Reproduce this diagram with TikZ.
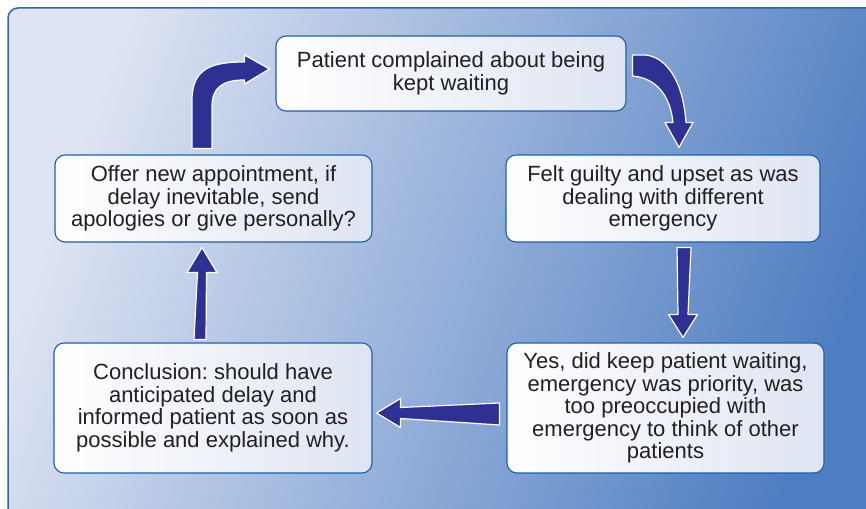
\documentclass[tikz,border=0pt]{standalone}
\usepackage{fontspec}
\setmainfont{Liberation Sans}
\usepackage{xcolor}
\usepackage{tikz}
\usetikzlibrary{calc}
\definecolor{bglight}{RGB}{222,228,243}
\definecolor{bgdark}{RGB}{78,125,193}
\definecolor{panelblue}{RGB}{38,104,182}
\definecolor{boxblue}{RGB}{26,96,172}
\definecolor{boxfill}{RGB}{222,228,242}
\definecolor{arrownavy}{RGB}{46,49,146}
\definecolor{textgray}{RGB}{35,31,32}
\frenchspacing

\begin{document}
\begin{tikzpicture}[x=1pt,y=1pt,
  stage/.style={draw=boxblue,line width=1.1pt,rounded corners=10pt,left color=white,right color=boxfill,
    text=textgray,align=center,inner sep=0pt,font=\fontsize{22}{22.6}\selectfont},
  blockarrow/.style={fill=arrownavy,draw=white,line width=1.2pt,line join=round}]
  \useasboundingbox (0,0) rectangle (866,508);
  \clip (0,0) rectangle (866,508);
  \shade[draw=panelblue,line width=1.5pt,rounded corners=10pt,top color=bglight,bottom color=bgdark,shading angle=70]
    (8,-20) rectangle (890,500);

  % the five stages
  \node[stage,minimum width=350pt,minimum height=75pt] (description) at (451,434.5)
    {Patient complained about being\\kept waiting};
  \node[stage,minimum width=314pt,minimum height=87pt] (feelings) at (663,309.5)
    {Felt guilty and upset as was\\dealing with different\\emergency};
  \node[stage,minimum width=317pt,minimum height=130pt] (evaluation) at (665.5,100)
    {Yes, did keep patient waiting,\\emergency was priority, was\\too preoccupied with\\emergency to think of other\\patients};
  \node[stage,minimum width=318pt,minimum height=130pt] (conclusion) at (213,100)
    {Conclusion: should have\\anticipated delay and\\informed patient as soon as\\possible and explained why.};
  \node[stage,minimum width=317pt,minimum height=87pt] (action) at (213.5,309.5)
    {Offer new appointment, if\\delay inevitable, send\\apologies or give personally?};

  % arrow ends
  \coordinate (s1) at ($(description.east)+(6,8)$);
  \coordinate (t1) at ($(feelings.north)+(16,7)$);
  \coordinate (s2) at ($(feelings.south)+(21,-5)$);
  \coordinate (t2) at ($(evaluation.north)+(17.5,5)$);
  \coordinate (s3) at ($(evaluation.west)+(-7,-6)$);
  \coordinate (t3) at ($(conclusion.east)+(4,-5)$);
  \coordinate (s4) at ($(conclusion.north)+(-13,3)$);
  \coordinate (t4) at ($(action.south)+(-11.5,-5)$);
  \coordinate (s5) at ($(action.north)+(-11.5,6)$);
  \coordinate (t5) at ($(description.west)+(-6,4.5)$);

  % curved arrow, description to feelings
  \draw[blockarrow] ($(s1)+(0,10.5)$) -- ($(s1)+(13,10.5)$)
    .. controls ($(s1)+(33,8.5)$) and ($(t1)+(4,68)$) .. ($(t1)+(7,25)$)
    -- ($(t1)+(14,25)$) -- (t1) -- ($(t1)+(-14,25)$) -- ($(t1)+(-6,25)$)
    .. controls ($(t1)+(-9,53)$) and ($(s1)+(23,-12.5)$) .. ($(s1)+(0,-10.5)$) -- cycle;
  % straight arrows
  \draw[blockarrow] ($(s2)+(-7,0)$) -- ($(t2)+(-5,23)$) -- ($(t2)+(-14.5,23)$) -- (t2)
    -- ($(t2)+(14.5,23)$) -- ($(t2)+(5,23)$) -- ($(s2)+(7,0)$) -- cycle;
  \draw[blockarrow] ($(s3)+(0,11)$) -- ($(t3)+(24,5.5)$) -- ($(t3)+(24,14.5)$) -- (t3)
    -- ($(t3)+(24,-14.5)$) -- ($(t3)+(24,-5.5)$) -- ($(s3)+(0,-11)$) -- cycle;
  \draw[blockarrow] ($(s4)+(-6,0)$) -- ($(t4)+(-4.5,-25)$) -- ($(t4)+(-15,-25)$) -- (t4)
    -- ($(t4)+(15,-25)$) -- ($(t4)+(4.5,-25)$) -- ($(s4)+(6,0)$) -- cycle;
  % curved arrow, action to description
  \draw[blockarrow] ($(s5)+(-10,0)$) -- ($(s5)+(-10,48)$)
    .. controls ($(s5)+(-10,80)$) and ($(t5)+(-58,7)$) .. ($(t5)+(-25,7)$)
    -- ($(t5)+(-25,14)$) -- (t5) -- ($(t5)+(-25,-15)$) -- ($(t5)+(-25,-11)$)
    .. controls ($(t5)+(-48,-11)$) and ($(s5)+(10,60)$) .. ($(s5)+(10,42)$)
    -- ($(s5)+(10,0)$) -- cycle;
\end{tikzpicture}
\end{document}
